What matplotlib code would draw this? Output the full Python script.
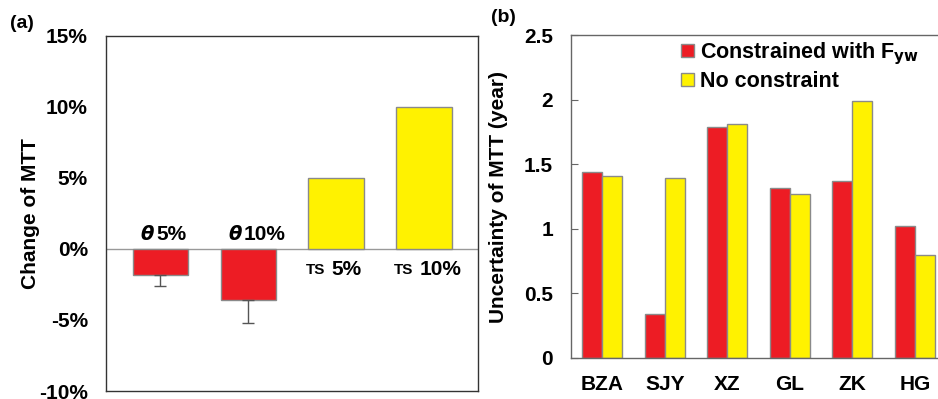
import numpy as np
import matplotlib
matplotlib.use("Agg")
import matplotlib.pyplot as plt
from matplotlib.patches import Patch

plt.rcParams["font.family"] = ["Liberation Sans", "DejaVu Sans"]
plt.rcParams["font.weight"] = "bold"

# panel (a): sensitivity of MTT
sens_labels = ["5%", "10%", "5%", "10%"]
sens_params = ["θ", "θ", "TS", "TS"]
sens_change = [-1.8, -3.6, 5.0, 10.0]
sens_err = [0.8, 1.6, 0.0, 0.0]

# panel (b): uncertainty of MTT
sites = ["BZA", "SJY", "XZ", "GL", "ZK", "HG"]
constrained = [1.44, 0.34, 1.79, 1.32, 1.37, 1.02]
no_constraint = [1.41, 1.39, 1.81, 1.27, 1.99, 0.80]

red = "#ED1C24"
yellow = "#FFF200"
edge = "#8a8a8a"

fig = plt.figure(figsize=(9.38, 3.99), dpi=100)

# ---- (a)
ax1 = fig.add_axes([0.113, 0.02, 0.397, 0.89])
x = np.arange(len(sens_change))
colors = [red if p == "θ" else yellow for p in sens_params]
ax1.bar(x, sens_change, width=0.63, color=colors, edgecolor=edge, linewidth=1, zorder=2)
ax1.errorbar(x[:2], sens_change[:2], yerr=[sens_err[:2], [0, 0]], fmt="none",
             ecolor="#555555", elinewidth=1, capsize=4, capthick=1, zorder=3)
ax1.axhline(0, color="#999999", lw=1, zorder=1)
ax1.set_xlim(-0.62, 3.62)
ax1.set_ylim(-10, 15)
ax1.set_yticks([-10, -5, 0, 5, 10, 15])
ax1.set_yticklabels(["-10%", "-5%", "0%", "5%", "10%", "15%"])
ax1.set_xticks([])
ax1.tick_params(axis="y", length=0, pad=13, labelsize=15)
ax1.set_ylabel("Change of MTT", fontsize=15, fontweight="bold")
ax1.yaxis.set_label_coords(-0.177, 0.5)
for s in ax1.spines.values():
    s.set_color("#333333")
    s.set_linewidth(1)

for xi, p, lab, v in zip(x, sens_params, sens_labels, sens_change):
    if p == "θ":
        ax1.text(xi - 0.07, 0.35, p, ha="right", va="bottom", fontsize=14,
                 fontweight="bold", style="italic", family=["DejaVu Sans"])
        ax1.text(xi - 0.05, 0.35, lab, ha="left", va="bottom", fontsize=15, fontweight="bold")
    else:
        ax1.text(xi - 0.12, -1.45, p, ha="right", va="center", fontsize=11, fontweight="bold")
        ax1.text(xi - 0.05, -1.45, lab, ha="left", va="center", fontsize=15, fontweight="bold")

fig.text(0.011, 0.942, "(a)", fontsize=14, fontweight="bold", va="center")

# ---- (b)
ax2 = fig.add_axes([0.6087, 0.1028, 0.3913, 0.8092])
xs = np.arange(len(sites))
w = 0.32
ax2.bar(xs - w / 2, constrained, width=w, color=red, edgecolor=edge, linewidth=1)
ax2.bar(xs + w / 2, no_constraint, width=w, color=yellow, edgecolor=edge, linewidth=1)
ax2.set_xlim(-0.5, 5.37)
ax2.set_ylim(0, 2.5)
ax2.set_yticks([0, 0.5, 1, 1.5, 2, 2.5])
ax2.set_yticklabels(["0", "0.5", "1", "1.5", "2", "2.5"])
ax2.set_xticks(xs)
ax2.set_xticklabels(sites)
ax2.tick_params(axis="y", direction="in", length=5, color="#666666", pad=13, labelsize=15)
ax2.tick_params(axis="x", length=0, pad=12, labelsize=15)
ax2.set_ylabel("Uncertainty of MTT (year)", fontsize=15, fontweight="bold")
ax2.yaxis.set_label_coords(-0.172, 0.5)
ax2.spines["right"].set_visible(False)
for s in ["left", "top", "bottom"]:
    ax2.spines[s].set_color("#666666")
    ax2.spines[s].set_linewidth(1)

handles = [Patch(facecolor=red, edgecolor=edge), Patch(facecolor=yellow, edgecolor=edge)]
ax2.legend(handles, ["Constrained with F$_{\\mathbf{yw}}$", "No constraint"],
           loc="upper right", bbox_to_anchor=(1.0, 1.045), frameon=False,
           prop={"size": 15.5, "weight": "bold"}, handlelength=0.6, handleheight=0.6,
           handletextpad=0.25, labelspacing=0.2, borderaxespad=0.5)

fig.text(0.523, 0.955, "(b)", fontsize=14, fontweight="bold", va="center")

fig.savefig("out.png", dpi=100)
